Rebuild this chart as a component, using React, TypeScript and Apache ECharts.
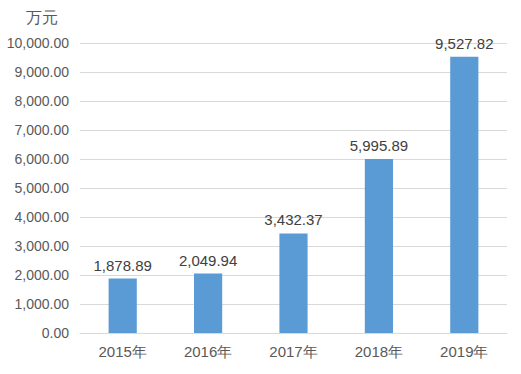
import React, { useEffect, useRef } from "react";
import * as echarts from "echarts";

const categories = ["2015年", "2016年", "2017年", "2018年", "2019年"];
const values = [1878.89, 2049.94, 3432.37, 5995.89, 9527.82];
const unitLabel = "万元";

const fmt = (v: number) =>
  v.toLocaleString("en-US", { minimumFractionDigits: 2, maximumFractionDigits: 2 });

export default function App() {
  const ref = useRef<HTMLDivElement>(null);
  useEffect(() => {
    if (!ref.current) return;
    const chart = echarts.init(ref.current, undefined, { renderer: "svg" });
    const font = "'Liberation Sans', Arial, sans-serif";
    chart.setOption({
      animation: false,
      backgroundColor: "#ffffff",
      textStyle: { fontFamily: font },
      grid: { left: 80, right: 14, top: 43, bottom: 41, containLabel: false },
      xAxis: {
        type: "category",
        data: categories,
        axisLine: { lineStyle: { color: "#d9d9d9" } },
        axisTick: { show: false },
        axisLabel: { color: "#595959", fontSize: 15, margin: 11, fontFamily: font },
      },
      yAxis: {
        type: "value",
        name: unitLabel,
        nameLocation: "end",
        nameGap: 18,
        nameTextStyle: { color: "#595959", fontSize: 16, align: "right", padding: [0, 22, 0, 0] },
        min: 0,
        max: 10000,
        interval: 1000,
        axisLine: { show: false },
        axisTick: { show: false },
        splitLine: { lineStyle: { color: "#d9d9d9" } },
        axisLabel: {
          color: "#595959",
          fontSize: 14,
          margin: 11,
          fontFamily: font,
          formatter: (v: number) => fmt(v),
        },
      },
      series: [
        {
          type: "bar",
          data: values,
          barWidth: "33%",
          itemStyle: { color: "#5b9bd5" },
          label: {
            show: true,
            position: "top",
            distance: 6,
            color: "#404040",
            fontSize: 15,
            fontFamily: font,
            formatter: (p: any) => fmt(p.value),
          },
        },
      ],
    });
    return () => chart.dispose();
  }, []);
  return (
    <div
      ref={ref}
      style={{ position: "fixed", left: 0, top: 0, width: 521, height: 374 }}
    />
  );
}
